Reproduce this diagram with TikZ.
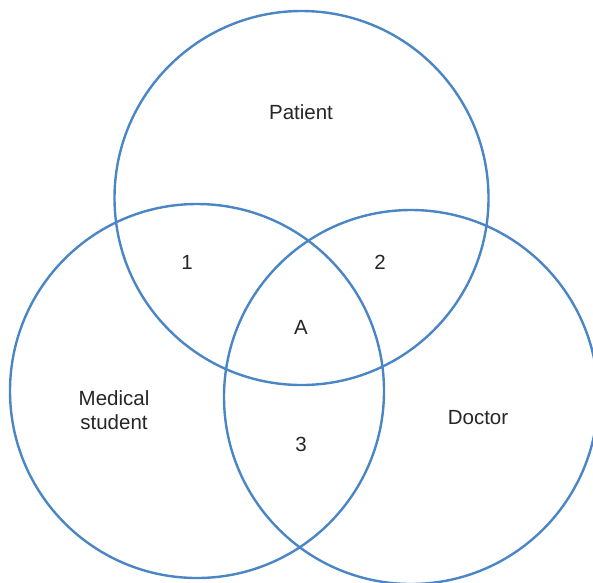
\documentclass[tikz,border=0pt]{standalone}
\usepackage{fontspec}
\setmainfont{Liberation Sans}
\definecolor{ringblue}{RGB}{74,134,197}
\begin{document}
\begin{tikzpicture}[x=1pt,y=-1pt,
  ring/.style={draw=ringblue,line width=2.4pt},
  lbl/.style={font=\fontsize{20.5}{23.5}\selectfont,text=black!85,align=center,inner sep=0pt}]
\useasboundingbox (0,0) rectangle (593,582);
\clip (0,0) rectangle (593,582);
% the three sets
\draw[ring] (301.5,198) circle (187);
\draw[ring] (197,391) circle (187);
\draw[ring] (411,397) circle (187);
% set names
\node[lbl] (patient) at (301,112) {Patient};
\node[lbl] (student) at (114,410) {Medical\\student};
\node[lbl] (doctor) at (478,418) {Doctor};
% overlap regions
\node[lbl] (r1) at (187,262) {1};
\node[lbl] (r2) at (380,262) {2};
\node[lbl] (rA) at (301,327) {A};
\node[lbl] (r3) at (301,444) {3};
\end{tikzpicture}
\end{document}
